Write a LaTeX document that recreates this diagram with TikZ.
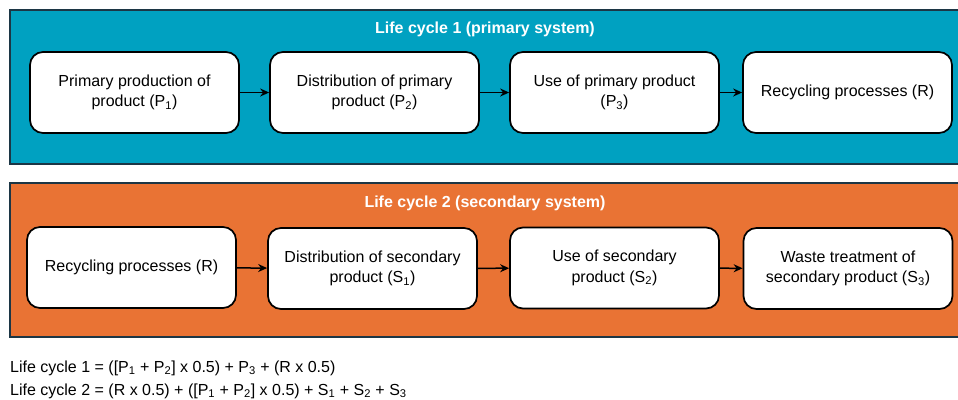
\documentclass[tikz,border=0pt]{standalone}
\usepackage{fontspec}
\setmainfont{Liberation Sans}
\usetikzlibrary{arrows.meta}
\definecolor{lcteal}{HTML}{00A1C1}
\definecolor{lcorange}{HTML}{E97334}
\definecolor{lcedge}{HTML}{1C3645}
\begin{document}
\begin{tikzpicture}[x=1pt,y=-1pt,
  panel/.style={draw=lcedge,line width=1.8pt},
  stage/.style={draw=black,fill=white,line width=1.7pt,rounded corners=13pt,
    minimum width=209pt,minimum height=81pt,align=center,inner sep=2pt,
    font=\fontsize{16}{20.5}\selectfont},
  paneltitle/.style={text=white,font=\bfseries\fontsize{16}{19}\selectfont},
  flow/.style={-{Stealth[length=9pt,width=8pt]},line width=1.5pt,black},
  formula/.style={anchor=base west,inner sep=0pt,font=\fontsize{16}{19}\selectfont}]
\useasboundingbox (0,0) rectangle (958,399);
\clip (0,0) rectangle (958,399);
\fill[white] (0,0) rectangle (958,399);

% primary system
\draw[panel,fill=lcteal] (10,10) rectangle (962,164);
\node[paneltitle] (t1) at (485,29) {Life cycle 1 (primary system)};
\node[stage] (p1) at (134.5,92.5) {Primary production of\\product (P\textsubscript{1})};
\node[stage] (p2) at (374.5,92.5) {Distribution of primary\\product (P\textsubscript{2})};
\node[stage] (p3) at (614.5,92.5) {Use of primary product\\(P\textsubscript{3})};
\node[stage] (r1) at (847.5,92.5) {Recycling processes (R)};
\draw[flow] (p1) -- (p2);
\draw[flow] (p2) -- (p3);
\draw[flow] (p3) -- (r1);

% secondary system
\draw[panel,fill=lcorange] (10,183) rectangle (962,337);
\node[paneltitle] (t2) at (485,203) {Life cycle 2 (secondary system)};
\node[stage] (r2) at (131.5,267.5) {Recycling processes (R)};
\node[stage] (s1) at (372.5,268.5) {Distribution of secondary\\product (S\textsubscript{1})};
\node[stage] (s2) at (614.5,268) {Use of secondary\\product (S\textsubscript{2})};
\node[stage] (s3) at (848,268.5) {Waste treatment of\\secondary product (S\textsubscript{3})};
\draw[flow] (r2) -- (s1);
\draw[flow] (s1) -- (s2);
\draw[flow] (s2) -- (s3);

% allocation formulas
\node[formula] (f1) at (10,372) {Life cycle 1 = ([P\textsubscript{1} + P\textsubscript{2}] x 0.5) + P\textsubscript{3} + (R x 0.5)};
\node[formula] (f2) at (10,395) {Life cycle 2 = (R x 0.5) + ([P\textsubscript{1} + P\textsubscript{2}] x 0.5) + S\textsubscript{1} + S\textsubscript{2} + S\textsubscript{3}};
\end{tikzpicture}
\end{document}
